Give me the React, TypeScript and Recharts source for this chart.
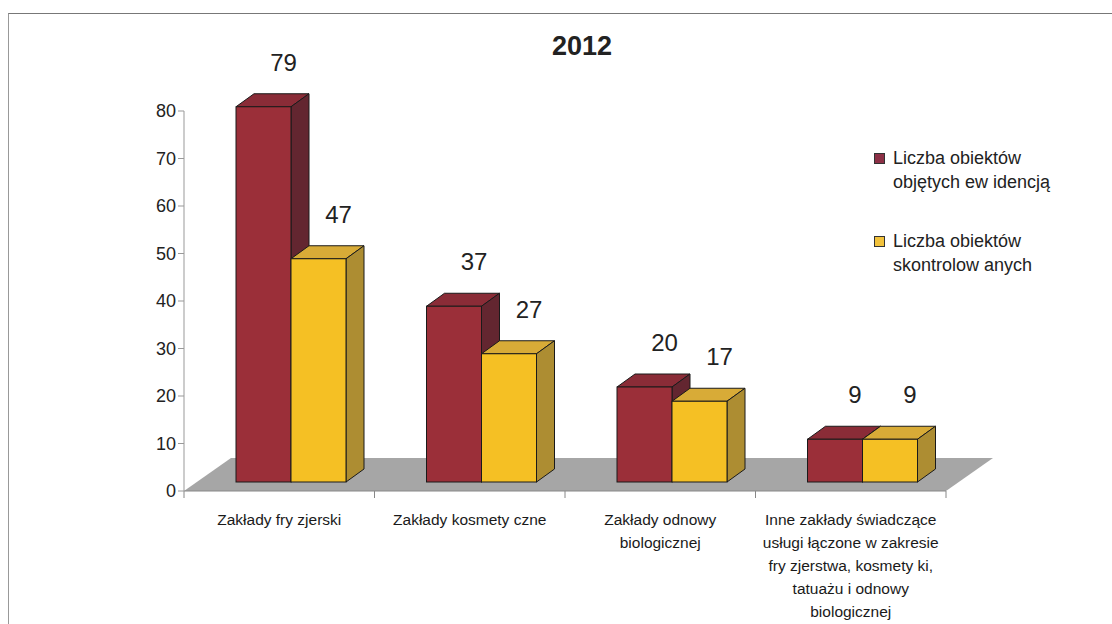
import React from "react";
import {
	BarChart,
	Bar,
	XAxis,
	YAxis,
	LabelList,
	ReferenceArea,
} from "recharts";

const categories = [
	"Zakłady fryzjerski",
	"Zakłady kosmetyczne",
	"Zakłady odnowy biologicznej",
	"Inne zakłady",
];
const tickLabels = [
	["Zakłady  fry zjerski"],
	["Zakłady  kosmety czne"],
	["Zakłady  odnowy", "biologicznej"],
	[
		"Inne zakłady  świadczące",
		"usługi łączone w zakresie",
		"fry zjerstwa, kosmety ki,",
		"tatuażu i odnowy",
		"biologicznej",
	],
];

const evidenceCounts = [79, 37, 20, 9];
const inspectedCounts = [47, 27, 17, 9];
const yTicks = [0, 10, 20, 30, 40, 50, 60, 70, 80];

const legendLabels = [
	["Liczba obiektów", "objętych ew idencją"],
	["Liczba obiektów", "skontrolow anych"],
];

const data = categories.map((name, i) => ({
	name,
	evidence: evidenceCounts[i],
	inspected: inspectedCounts[i],
}));

const FONT = "'Liberation Sans', Arial, sans-serif";
// 3d look: bars sit a bit back on the floor
const SHIFT_X = 12;
const LIFT_Y = 9;
const BAR_DX = 18;
const BAR_DY = 13;
const FLOOR_DX = 47;
const FLOOR_DY = 33;

const makeBar3D = (front: string, top: string, side: string) => (props: any) => {
	const { x, y, width, height } = props;
	if (height == null || width == null) return null;
	const X = x + SHIFT_X;
	const Y = y - LIFT_Y;
	const B = Y + height;
	return (
		<g stroke="#1a1a1a" strokeWidth={1}>
			<polygon
				points={`${X},${Y} ${X + BAR_DX},${Y - BAR_DY} ${X + width + BAR_DX},${Y - BAR_DY} ${X + width},${Y}`}
				fill={top}
			/>
			<polygon
				points={`${X + width},${Y} ${X + width + BAR_DX},${Y - BAR_DY} ${X + width + BAR_DX},${B - BAR_DY} ${X + width},${B}`}
				fill={side}
			/>
			<rect x={X} y={Y} width={width} height={height} fill={front} />
		</g>
	);
};

const Floor = (props: any) => {
	const { x, y, width, height } = props;
	const b = y + height;
	const ticks = [0, 1, 2, 3, 4].map((i) => x + (i * width) / categories.length);
	return (
		<g>
			<polygon
				points={`${x},${b} ${x + width},${b} ${x + width + FLOOR_DX},${b - FLOOR_DY} ${x + FLOOR_DX},${b - FLOOR_DY}`}
				fill="#a6a6a6"
			/>
			{ticks.map((tx, i) => (
				<line key={i} x1={tx} y1={b} x2={tx} y2={b + 7} stroke="#888" />
			))}
		</g>
	);
};

const CategoryTick = (props: any) => {
	const { x, y, payload } = props;
	const lines = tickLabels[payload.index] || [payload.value];
	return (
		<text
			x={x}
			y={y}
			textAnchor="middle"
			fontSize={15.5}
			fill="#1a1a1a"
			fontFamily={FONT}
		>
			{lines.map((l, i) => (
				<tspan key={i} x={x} dy={i === 0 ? 26 : 23}>
					{l}
				</tspan>
			))}
		</text>
	);
};

const ValueLabel = (props: any) => {
	const { x, y, width, value } = props;
	return (
		<text
			x={x + width / 2 + SHIFT_X + 20}
			y={y - LIFT_Y - 36}
			textAnchor="middle"
			fontSize={24}
			fill="#222"
			fontFamily={FONT}
		>
			{value}
		</text>
	);
};

const legendColors = ["#8c3046", "#f2c23c"];

export default function App() {
	return (
		<div
			style={{
				position: "absolute",
				left: 0,
				top: 0,
				width: 1112,
				height: 624,
				background: "#fff",
				overflow: "hidden",
				fontFamily: FONT,
			}}
		>
			<div
				style={{
					position: "absolute",
					left: 8,
					top: 13,
					width: 1200,
					height: 700,
					borderTop: "1px solid #777",
					borderLeft: "1px solid #999",
				}}
			/>
			<div
				style={{
					position: "absolute",
					left: 482,
					width: 200,
					top: 31,
					textAlign: "center",
					fontSize: 27,
					fontWeight: "bold",
					color: "#222",
				}}
			>
				2012
			</div>
			<BarChart
				width={1112}
				height={624}
				data={data}
				margin={{ top: 111, right: 166, bottom: 103, left: 144 }}
				barSize={55}
				barGap={0}
				style={{ position: "absolute", left: 0, top: 0 }}
			>
				<ReferenceArea y1={0} y2={1} shape={<Floor />} ifOverflow="visible" />
				<XAxis
					dataKey="name"
					height={30}
					axisLine={{ stroke: "#888" }}
					tickLine={false}
					tick={<CategoryTick />}
					interval={0}
				/>
				<YAxis
					width={40}
					domain={[0, 80]}
					ticks={yTicks}
					interval={0}
					axisLine={{ stroke: "#999" }}
					tickLine={{ stroke: "#999" }}
					tickSize={6}
					tick={{ fontSize: 18, fill: "#222", fontFamily: FONT }}
				/>
				<Bar
					dataKey="evidence"
					isAnimationActive={false}
					shape={makeBar3D("#9b2f39", "#8a2c37", "#632630")}
				>
					<LabelList dataKey="evidence" content={<ValueLabel />} />
				</Bar>
				<Bar
					dataKey="inspected"
					isAnimationActive={false}
					shape={makeBar3D("#f5c024", "#d8ab37", "#ad8d32")}
				>
					<LabelList dataKey="inspected" content={<ValueLabel />} />
				</Bar>
			</BarChart>
			{legendLabels.map((lines, i) => (
				<div
					key={i}
					style={{
						position: "absolute",
						left: 874,
						top: 146 + i * 83,
						fontSize: 18,
						lineHeight: "24px",
						color: "#222",
					}}
				>
					<div
						style={{
							position: "absolute",
							left: 0,
							top: 7,
							width: 9,
							height: 9,
							background: legendColors[i],
							border: "1px solid #333",
						}}
					/>
					<div style={{ marginLeft: 19 }}>
						{lines.map((l, j) => (
							<div key={j}>{l}</div>
						))}
					</div>
				</div>
			))}
		</div>
	);
}
